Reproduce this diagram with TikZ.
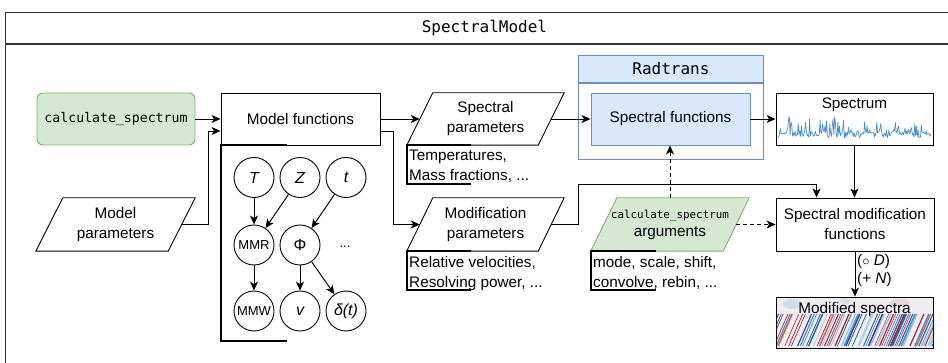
\documentclass[tikz,border=0pt]{standalone}
\usepackage{fontspec}
\setmainfont{Liberation Sans}
\setmonofont{DejaVu Sans Mono}
\usetikzlibrary{arrows.meta,calc}

\definecolor{greenfill}{HTML}{D5E8D4}
\definecolor{greenline}{HTML}{82B366}
\definecolor{bluefill}{HTML}{DAE8FC}
\definecolor{blueline}{HTML}{6C8EBF}
\definecolor{framegray}{HTML}{333333}
\definecolor{specblue}{HTML}{4A8FCC}
\definecolor{imgbg}{HTML}{F0ECF0}
\definecolor{stripe0}{HTML}{2166AC}
\definecolor{stripe1}{HTML}{4393C3}
\definecolor{stripe2}{HTML}{92C5DE}
\definecolor{stripe3}{HTML}{B2182B}
\definecolor{stripe4}{HTML}{D6604D}
\definecolor{stripe5}{HTML}{F4F2F4}
\definecolor{stripe6}{HTML}{3D3A9E}
\definecolor{stripe7}{HTML}{F4F2F4}

\newcommand{\lblsize}{\fontsize{15.3}{20}\selectfont}
\newcommand{\ttbig}{\fontsize{16}{19}\selectfont\ttfamily}
\newcommand{\ttmid}{\fontsize{13.2}{16}\selectfont\ttfamily}
\newcommand{\ttsmall}{\fontsize{10.9}{14}\selectfont\ttfamily}
\newcommand{\circsize}{\fontsize{16}{19}\selectfont}
\newcommand{\circsmall}{\fontsize{13}{15}\selectfont}

% parallelogram drawn around the rectangle of a named node, top edge shifted right
\newcommand{\paraframe}[3][]{%
  \path[paraline,#1] ($(#2.south west)+(-#3,0)$) -- ($(#2.north west)+(#3,0)$)
    -- ($(#2.north east)+(#3,0)$) -- ($(#2.south east)+(-#3,0)$) -- cycle;}

\begin{document}
\begin{tikzpicture}[x=1pt, y=-1pt, line join=miter,
  box/.style={draw=black, line width=0.9pt, inner sep=0pt, align=center, font=\lblsize},
  greenbox/.style={box, draw=greenline, fill=greenfill},
  bluebox/.style={box, draw=blueline, fill=bluefill},
  paratext/.style={inner sep=0pt, align=center, font=\lblsize},
  paraline/.style={draw=black, line width=0.9pt},
  note/.style={inner sep=0pt, align=left, font=\lblsize, anchor=north west},
  bracket/.style={line width=2.4pt, line cap=butt},
  arr/.style={line width=0.95pt, -{Stealth[length=9pt, width=8pt, inset=2.5pt]}},
  dasharr/.style={arr, dash pattern=on 4pt off 3pt},
  var/.style={circle, draw, line width=0.9pt, minimum size=40pt, inner sep=0pt, font=\circsize},
  smallvar/.style={var, font=\circsmall},
  plain/.style={inner sep=0pt, font=\lblsize},
]
\path[use as bounding box] (0,0) rectangle (948,363);
\clip (0,0) rectangle (948,363);
\fill[white] (0,0) rectangle (948,363);

% outer container with its title bar
\node[box, draw=framegray, minimum width=958, minimum height=31, anchor=north west, font=\ttbig] (title) at (5,12) {SpectralModel};
\node[box, draw=framegray, minimum width=958, minimum height=380, anchor=north west] (body) at (title.south west) {};

% Radtrans container
\node[bluebox, minimum width=185, minimum height=27, anchor=north west, font=\ttbig] (radhead) at (578,55) {Radtrans};
\node[box, draw=blueline, fill=white, minimum width=185, minimum height=76, anchor=north] (radbody) at (radhead.south) {};

% boxes
\node[greenbox, rounded corners=6pt, minimum width=158, minimum height=52, font=\ttmid] (calc) at (116,119) {calculate\_spectrum};
\node[box, minimum width=159, minimum height=52] (mfun) at (300.5,119) {Model functions};
\node[bluebox, minimum width=159, minimum height=52] (sfun) at (670.5,119) {Spectral functions};
\node[box, minimum width=157, minimum height=52] (spec) at (854.5,119) {};
\node[box, minimum width=158, minimum height=53] (smod) at (855,224.5) {Spectral modification\\functions};

% parallelograms
\node[paratext, minimum width=132, minimum height=53] (mpar) at (115.5,224.5) {};
\paraframe{mpar}{13.5}
\node[paratext] (mpartext) at (mpar) {Model\\parameters};

\node[paratext, minimum width=131, minimum height=52] (spar) at (485.5,119) {};
\paraframe{spar}{13}
\node[paratext] (spartext) at (spar) {Spectral\\parameters};

\node[paratext, minimum width=131, minimum height=53] (modp) at (485.5,224.5) {};
\paraframe{modp}{13}
\node[paratext] (modptext) at (modp) {Modification\\parameters};

\node[paratext, minimum width=132, minimum height=53] (args) at (670,224.5) {};
\paraframe[draw=greenline, fill=greenfill]{args}{13}
\node[paratext] (argstext) at (args) {{\ttsmall calculate\_spectrum}\\[-2pt]arguments};

% spectrum plot
\pgfmathsetseed{5}
\draw[specblue, line width=0.7pt, line join=round]
  plot[domain=778:931, samples=190] (\x, {138 - 6*rnd - 18*rnd^5});
\node[plain] (speclbl) at (854.5,105) {Spectrum};

% modified spectra image
\begin{scope}
  \clip (776,297) rectangle (933,348);
  \fill[imgbg] (776,297) rectangle (933,348);
  \fill[stripe2, opacity=0.35] (792,304) ellipse (9 and 5);
  \fill[stripe2, opacity=0.3] (845,301) ellipse (6 and 3);
  \fill[stripe4, opacity=0.15] (900,303) ellipse (10 and 4);
  \pgfmathsetseed{11}
  \foreach \i in {0,...,80} {
    \pgfmathsetmacro{\xs}{760+\i*2.2+rnd}
    \pgfmathrandominteger{\ci}{0}{7}
    \pgfmathsetmacro{\lw}{0.4+1.3*rnd}
    \draw[color=stripe\ci, line width=\lw pt] (\xs,346) -- (\xs+14,314);
  }
\end{scope}
\node[box, minimum width=157, minimum height=51] (modspec) at (854.5,322.5) {};
\node[plain] (modlbl) at (854.5,310) {Modified spectra};

% variables of the model functions
\node[var] (T) at (254,177.5) {\itshape T};
\node[var] (Z) at (300,177.5) {\itshape Z};
\node[var] (t) at (346,177.5) {\itshape t};
\node[smallvar] (MMR) at (254,245) {MMR};
\node[var] (Phi) at (300,245) {Φ};
\node[plain, font=\circsmall] (more) at (345,247) {...};
\node[smallvar] (MMW) at (254,311) {MMW};
\node[var] (v) at (300,311) {\itshape v};
\node[var] (delta) at (346,311) {\itshape δ(t)};

\draw[arr] (T) -- (MMR);
\draw[arr] (Z) -- (MMR);
\draw[arr] (t) -- (Phi);
\draw[arr] (MMR) -- (MMW);
\draw[arr] (Phi) -- (v);
\draw[arr] (Phi) -- (delta);

% annotation brackets and notes
\draw[bracket] (287,145) -| (221,341) -- (287,341);
\draw[bracket] (471,145) -| (407,184) -- (471,184);
\draw[bracket] (471,251) -| (407,290) -- (471,290);
\draw[bracket] (656,251) -| (591,290) -- (656,290);
\node[note] (sparnote) at (409,150) {Temperatures,\\Mass fractions, ...};
\node[note] (modpnote) at (409,256) {Relative velocities,\\Resolving power, ...};
\node[note] (argsnote) at (593,256) {mode, scale, shift,\\convolve, rebin, ...};

% connectors
\draw[arr] (calc) -- (mfun);
\draw[arr] (mpar.east) -- ++(26.5,0) |- ($(mfun.west)+(0,12)$);
\draw[arr] (mfun.east) -- (spar.west);
\draw[arr] ($(mfun.east)+(0,12)$) -- ++(13,0) |- (modp.west);
\draw[arr] (spar.east) -- (sfun.west);
\draw[arr] (sfun.east) -- (spec.west);
\draw[arr] (spec.south) -- (spec.south |- smod.north);
\coordinate (smodin) at ($(smod.north west)+(41,0)$);
\draw[arr] (modp.east) -- ++(27,0) |- ($(smodin)+(0,-13)$) -- (smodin);
\draw[dasharr] (args.north) -- (args.north |- sfun.south);
\draw[dasharr] (args.east) -- (smod.west);
\draw[arr] (smod.south) -- (smod.south |- modspec.north);
\node[plain, anchor=west] (convD) at (857,262) {($\circ$ \textit{D})};
\node[plain, anchor=west] (addN) at (857,280) {(+ \textit{N})};
\end{tikzpicture}
\end{document}
